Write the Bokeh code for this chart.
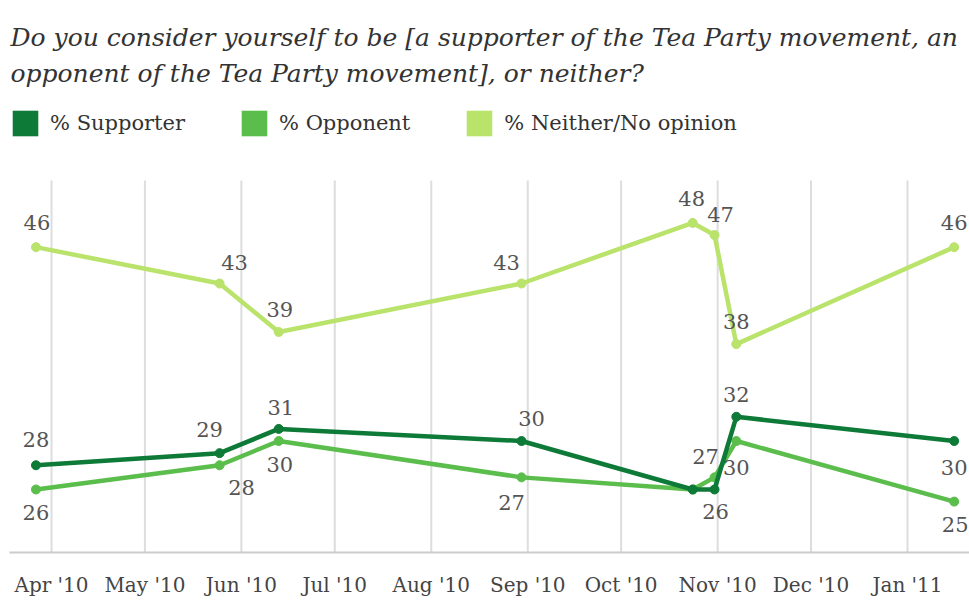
import datetime as dt
from bokeh.plotting import figure
from bokeh.models import (ColumnDataSource, FixedTicker, Legend, LegendItem,
                          Label, Range1d)
from bokeh.embed import file_html
from bokeh.resources import INLINE
from bokeh.core.properties import value

# ---------------- data ----------------
dates = ["2010-03-27", "2010-05-25", "2010-06-13", "2010-08-30",
         "2010-10-24", "2010-10-31", "2010-11-07", "2011-01-16"]
supporter = [28, 29, 31, 30, 26, 26, 32, 30]
opponent = [26, 28, 30, 27, 26, 27, 30, 25]
neither = [46, 43, 39, 43, 48, 47, 38, 46]

supporter_labels = ["28", "29", "31", "30", "", "26", "32", "30"]
opponent_labels = ["26", "28", "30", "27", "", "27", "30", "25"]
neither_labels = ["46", "43", "39", "43", "48", "47", "38", "46"]

tick_dates = ["2010-04-01", "2010-05-01", "2010-06-01", "2010-07-01",
              "2010-08-01", "2010-09-01", "2010-10-01", "2010-11-01",
              "2010-12-01", "2011-01-01"]
tick_labels = ["Apr '10", "May '10", "Jun '10", "Jul '10", "Aug '10",
               "Sep '10", "Oct '10", "Nov '10", "Dec '10", "Jan '11"]

series_names = ["% Supporter", "% Opponent", "% Neither/No opinion"]
title_lines = ["Do you consider yourself to be [a supporter of the Tea Party movement, an",
               "opponent of the Tea Party movement], or neither?"]

# value extent of the chart area (gridlines run over this band)
y_low, y_high = 20.8, 51.5

# ---------------- styles (label offsets in pixels) ----------------
colors = ["#0E7A37", "#5BBE4C", "#B9E36B"]
sup_dx = [0, -10, 2, 10, 0, 1, 0, 0]
sup_dy = [-26, -24, -21, -23, 0, 22, -22, 26]
opp_dx = [0, 22, 1, -10, 0, -9, 0, 1]
opp_dy = [23, 22, 23, 25, 0, -21, 26, 23]
nei_dx = [1, 15, 1, -15, -1, 6, 0, 0]
nei_dy = [-25, -21, -22, -21, -24, -21, -23, -25]

FONT = "DejaVu Serif"

FRAME_BOTTOM_PX = 50
PLOT_H = 602 - FRAME_BOTTOM_PX
AREA_TOP_PX = 180
px_per_unit = (PLOT_H - AREA_TOP_PX) / (y_high - y_low)
y_top = y_high + AREA_TOP_PX / px_per_unit


def to_dt(s):
    return dt.datetime.strptime(s, "%Y-%m-%d")


xs = [to_dt(d) for d in dates]
tick_x = [to_dt(d) for d in tick_dates]
ticks_ms = [(t - dt.datetime(1970, 1, 1)).total_seconds() * 1000 for t in tick_x]

p = figure(width=969, height=602, x_axis_type="datetime", y_axis_location=None,
           output_backend="svg", toolbar_location=None,
           x_range=Range1d(dt.datetime(2010, 3, 18, 12), dt.datetime(2011, 1, 20, 22)),
           y_range=Range1d(y_low, y_top),
           min_border_left=9, min_border_right=0, min_border_top=0,
           min_border_bottom=FRAME_BOTTOM_PX)
p.outline_line_color = None
p.background_fill_color = "white"
p.border_fill_color = "white"

ticker = FixedTicker(ticks=ticks_ms)
p.xaxis.ticker = ticker
p.xaxis.major_label_overrides = {t: lab for t, lab in zip(ticks_ms, tick_labels)}
p.xaxis.axis_line_color = "#cccccc"
p.xaxis.axis_line_width = 2
p.xaxis.major_tick_line_color = None
p.xaxis.minor_tick_line_color = None
p.xaxis.major_tick_out = 0
p.xaxis.major_tick_in = 0
p.xaxis.major_label_standoff = 20
p.xaxis.major_label_text_font = FONT
p.xaxis.major_label_text_font_size = "20px"
p.xaxis.major_label_text_color = "#444444"

p.xgrid.grid_line_color = None
p.ygrid.grid_line_color = None

p.segment(x0=tick_x, x1=tick_x, y0=[y_low] * len(tick_x), y1=[y_high] * len(tick_x),
          line_color="#dddddd", line_width=2)

series = [
    (supporter, supporter_labels, sup_dx, sup_dy),
    (opponent, opponent_labels, opp_dx, opp_dy),
    (neither, neither_labels, nei_dx, nei_dy),
]

for i in [2, 1, 0]:
    vals, labs, dx, dy = series[i]
    src = ColumnDataSource(dict(x=xs, y=vals, lab=labs, dx=dx, dy=dy))
    p.line("x", "y", source=src, line_color=colors[i], line_width=4.5)
    p.scatter("x", "y", source=src, size=9, fill_color=colors[i], line_color=colors[i])
    p.text("x", "y", text="lab", source=src, x_offset="dx", y_offset="dy",
           text_font=value(FONT), text_font_size="21px", text_color="#555555",
           text_align="center", text_baseline="middle")

nan = float("nan")
legend_items = []
for i in range(3):
    r = p.quad(left=[nan], right=[nan], top=[nan], bottom=[nan],
               fill_color=colors[i], line_color=None)
    legend_items.append(LegendItem(label=series_names[i], renderers=[r]))

legend = Legend(items=legend_items, orientation="horizontal",
                location=(0, PLOT_H - 139),
                glyph_width=32, glyph_height=32, label_standoff=9, spacing=53,
                padding=0, margin=0, border_line_color=None,
                background_fill_alpha=0,
                label_text_font=FONT, label_text_font_size="21px",
                label_text_color="#333333", label_height=32)
p.add_layout(legend, "center")

for txt, base in zip(title_lines, [37, 73]):
    p.add_layout(Label(x=1, y=PLOT_H - base, x_units="screen", y_units="screen", text=txt,
                       text_font=FONT, text_font_style="italic",
                       text_font_size="25px", text_color="#333333",
                       text_baseline="alphabetic"))

open("out.html", "w").write(file_html(p, INLINE))
